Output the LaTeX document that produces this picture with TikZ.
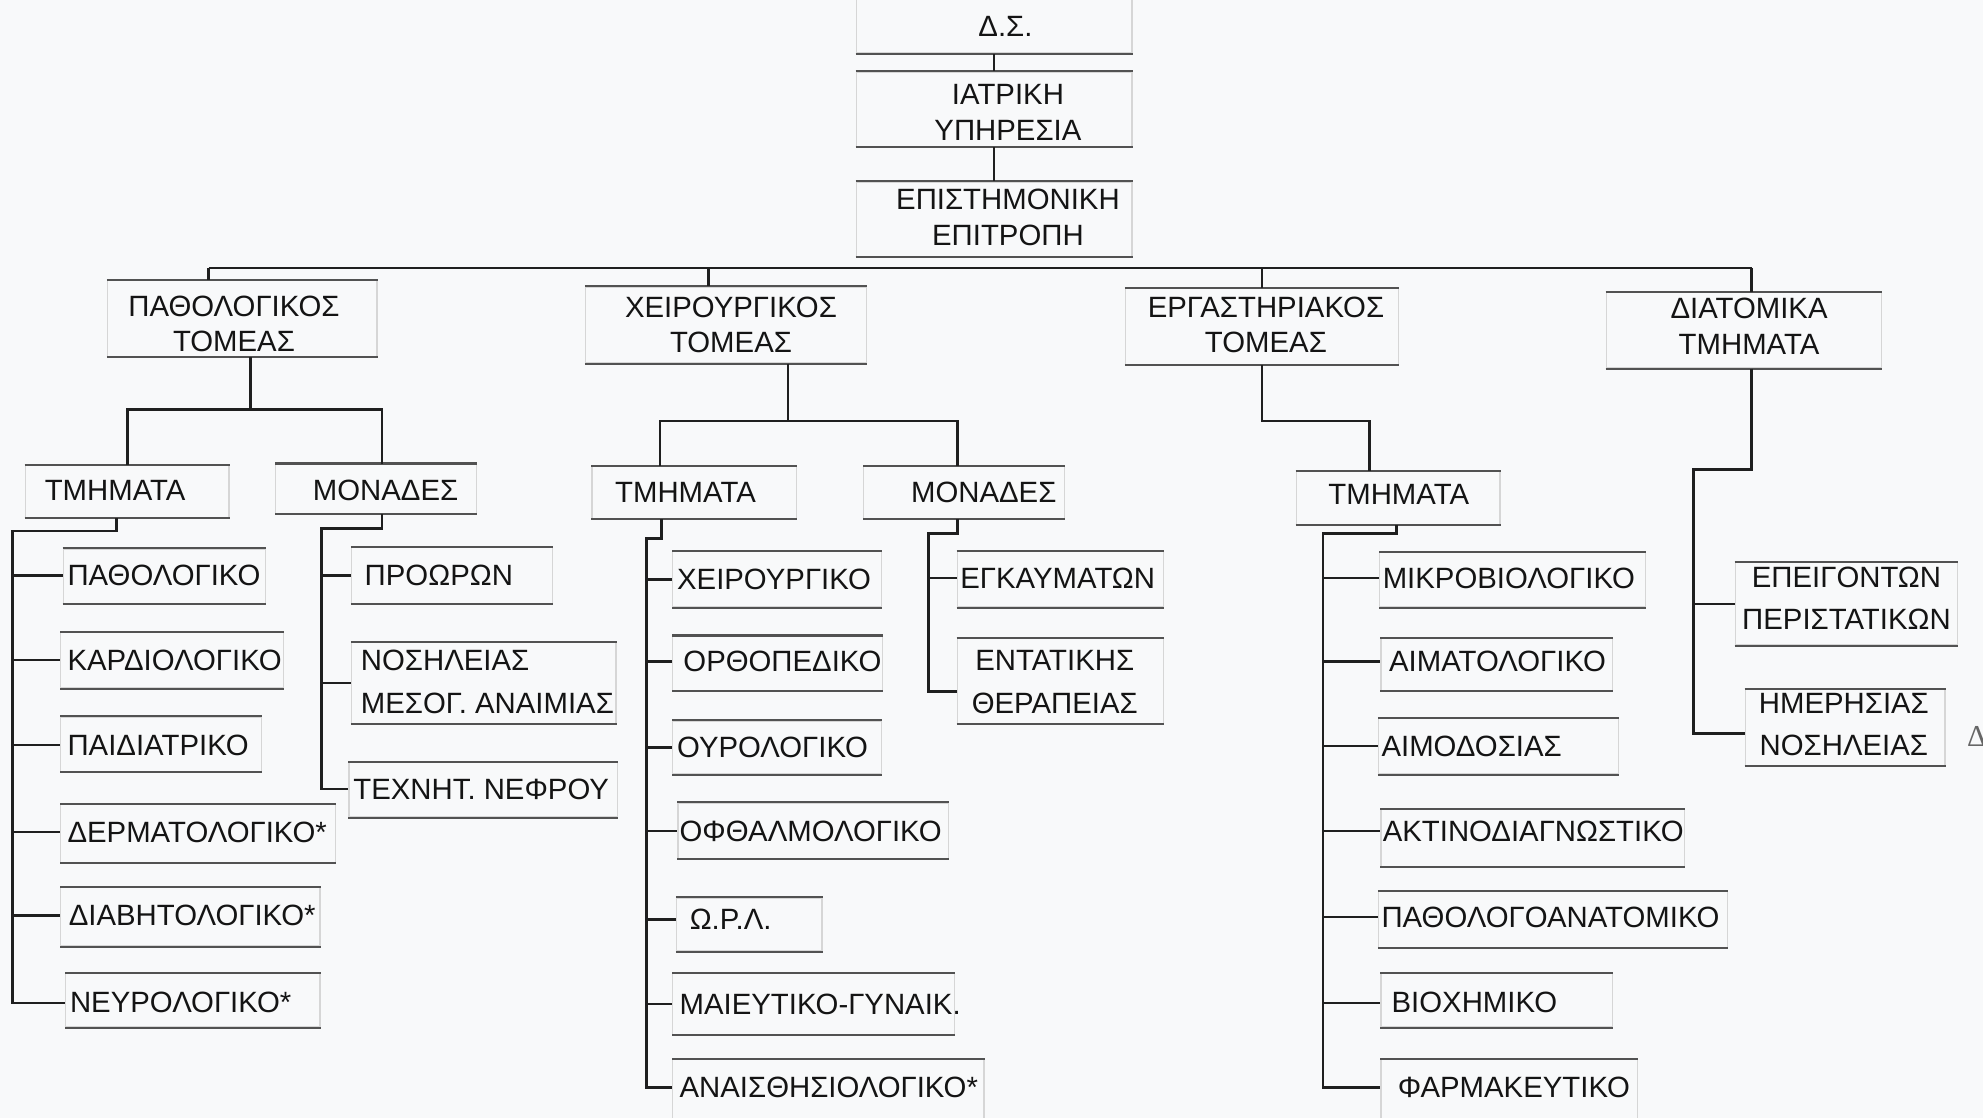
\documentclass[tikz,border=0pt]{standalone}
\usepackage{fontspec}
\setmainfont{Liberation Sans}
\newfontfamily\serifgr{Liberation Serif}
\definecolor{bgc}{RGB}{248,249,250}
\tikzset{
  boxst/.style={draw=black!16, line width=0.5pt, inner sep=0pt},
  edgeln/.style={draw=black!68, line width=0.8pt},
  conn/.style={draw=black!88, line width=1.05pt},
  txt/.style={font=\fontsize{11.6}{14}\selectfont, text=black!92, inner sep=0pt},
}
% left-aligned box: name, x1, y1, x2, y2, text x, text y, text
\newcommand\obox[8]{%
  \node[boxst, minimum width={(#4-#2)*0.5pt}, minimum height={(#5-#3)*0.5pt}] (#1) at ({(#2+#4)/2},{(#3+#5)/2}) {};
  \draw[edgeln] (#1.north west) -- (#1.north east) (#1.south west) -- (#1.south east);
  \node[txt, anchor=west, align=left] (#1-t) at (#6,#7) {#8};
}
% centred box: name, x1, y1, x2, y2, text centre x, text centre y, text
\newcommand\cbox[8]{%
  \node[boxst, minimum width={(#4-#2)*0.5pt}, minimum height={(#5-#3)*0.5pt}] (#1) at ({(#2+#4)/2},{(#3+#5)/2}) {};
  \draw[edgeln] (#1.north west) -- (#1.north east) (#1.south west) -- (#1.south east);
  \node[txt, align=center] (#1-t) at (#6,#7) {#8};
}
\newcommand\brn[2]{\draw[conn] (#1 |- #2-t.west) -- (#2.west |- #2-t.west);}
\begin{document}
\begin{tikzpicture}[x=0.5pt, y=-0.5pt]
\fill[bgc] (0,0) rectangle (1568,884);
\useasboundingbox (0,0) rectangle (1568,884);

% top
\cbox{DS}{677}{-4}{895}{42}{795}{21}{Δ.Σ.}
\cbox{IY}{677}{57}{895}{116}{797}{89}{ΙΑΤΡΙΚΗ\\ΥΠΗΡΕΣΙΑ}
\cbox{EE}{677}{144}{895}{203}{797}{172}{ΕΠΙΣΤΗΜΟΝΙΚΗ\\ΕΠΙΤΡΟΠΗ}

% sectors
\cbox{PT}{85}{222}{298}{282}{185}{256}{ΠΑΘΟΛΟΓΙΚΟΣ\\ΤΟΜΕΑΣ}
\cbox{XT}{463}{227}{685}{287}{578}{257}{ΧΕΙΡΟΥΡΓΙΚΟΣ\\ΤΟΜΕΑΣ}
\cbox{ET}{890}{228}{1106}{288}{1001}{257}{ΕΡΓΑΣΤΗΡΙΑΚΟΣ\\ΤΟΜΕΑΣ}
\cbox{DT}{1270}{231}{1488}{291}{1383}{258}{ΔΙΑΤΟΜΙΚΑ\\ΤΜΗΜΑΤΑ}

% second level
\obox{PTm}{20}{368}{181}{409}{35}{388}{ΤΜΗΜΑΤΑ}
\obox{PMo}{218}{367}{377}{406}{247}{388}{ΜΟΝΑΔΕΣ}
\obox{XTm}{468}{369}{630}{410}{486}{389}{ΤΜΗΜΑΤΑ}
\obox{XMo}{683}{369}{842}{410}{720}{389}{ΜΟΝΑΔΕΣ}
\obox{ETm}{1025}{373}{1186}{415}{1050}{391}{ΤΜΗΜΑΤΑ}

% leaves: pathology departments
\obox{P1}{50}{434}{210}{477}{53}{455}{ΠΑΘΟΛΟΓΙΚΟ}
\obox{P2}{48}{500}{224}{544}{53}{522}{ΚΑΡΔΙΟΛΟΓΙΚΟ}
\obox{P3}{48}{567}{207}{610}{53}{589}{ΠΑΙΔΙΑΤΡΙΚΟ}
\obox{P4}{48}{636}{265}{682}{53}{658}{ΔΕΡΜΑΤΟΛΟΓΙΚΟ*}
\obox{P5}{48}{702}{253}{748}{54}{724}{ΔΙΑΒΗΤΟΛΟΓΙΚΟ*}
\obox{P6}{52}{770}{253}{812}{55}{793}{ΝΕΥΡΟΛΟΓΙΚΟ*}
% pathology units
\obox{M1}{278}{433}{437}{477}{288}{455}{ΠΡΟΩΡΩΝ}
\obox{M2}{278}{508}{487}{572}{285}{539}{ΝΟΣΗΛΕΙΑΣ\\[3pt]ΜΕΣΟΓ. ΑΝΑΙΜΙΑΣ}
\obox{M3}{276}{603}{488}{646}{279}{624}{ΤΕΧΝΗΤ. ΝΕΦΡΟΥ}
% surgery departments
\obox{X1}{532}{436}{697}{480}{535}{458}{ΧΕΙΡΟΥΡΓΙΚΟ}
\obox{X2}{532}{503}{698}{546}{540}{523}{ΟΡΘΟΠΕΔΙΚΟ}
\obox{X3}{532}{570}{697}{612}{535}{591}{ΟΥΡΟΛΟΓΙΚΟ}
\obox{X4}{536}{635}{750}{679}{537}{657}{ΟΦΘΑΛΜΟΛΟΓΙΚΟ}
\obox{X5}{535}{710}{650}{752}{545}{727}{Ω.Ρ.Λ.}
\obox{X6}{532}{770}{755}{818}{537}{794}{ΜΑΙΕΥΤΙΚΟ-ΓΥΝΑΙΚ.}
\obox{X7}{532}{838}{778}{892}{537}{860}{ΑΝΑΙΣΘΗΣΙΟΛΟΓΙΚΟ*}
% surgery units
\obox{Y1}{757}{436}{920}{480}{759}{457}{ΕΓΚΑΥΜΑΤΩΝ}
\cbox{Y2}{757}{505}{920}{572}{834}{539}{ΕΝΤΑΤΙΚΗΣ\\[3pt]ΘΕΡΑΠΕΙΑΣ}
% laboratory departments
\obox{E1}{1091}{437}{1301}{480}{1093}{457}{ΜΙΚΡΟΒΙΟΛΟΓΙΚΟ}
\obox{E2}{1092}{505}{1275}{546}{1098}{523}{ΑΙΜΑΤΟΛΟΓΙΚΟ}
\obox{E3}{1090}{568}{1280}{612}{1092}{590}{ΑΙΜΟΔΟΣΙΑΣ}
\obox{E4}{1092}{640}{1332}{685}{1093}{657}{ΑΚΤΙΝΟΔΙΑΓΝΩΣΤΙΚΟ}
\obox{E5}{1090}{705}{1366}{749}{1092}{725}{ΠΑΘΟΛΟΓΟΑΝΑΤΟΜΙΚΟ}
\obox{E6}{1092}{770}{1275}{812}{1100}{793}{ΒΙΟΧΗΜΙΚΟ}
\obox{E7}{1092}{838}{1295}{892}{1105}{860}{ΦΑΡΜΑΚΕΥΤΙΚΟ}
% interdepartmental
\cbox{D1}{1372}{445}{1548}{510}{1460}{473}{ΕΠΕΙΓΟΝΤΩΝ\\[2.5pt]ΠΕΡΙΣΤΑΤΙΚΩΝ}
\cbox{D2}{1380}{545}{1538}{605}{1458}{573}{ΗΜΕΡΗΣΙΑΣ\\[2.5pt]ΝΟΣΗΛΕΙΑΣ}

% stray fragment at the right edge
\node[font=\serifgr\fontsize{12}{12}\selectfont, text=black!60, anchor=west, inner sep=0pt] (stray) at (1555,582) {Δ};

% ---- connectors ----
\draw[conn] (DS.south) -- (IY.north);
\draw[conn] (IY.south) -- (EE.north);
\coordinate (busL) at (165,212);
\coordinate (busR) at (1385,212);
\coordinate (bX) at (560,212);
\draw[conn] (busL) -- (busR);
\draw[conn] (busL) -- (busL |- PT.north);
\draw[conn] (bX) -- (bX |- XT.north);
\draw[conn] (ET.north |- busL) -- (ET.north);
\draw[conn] (busR) -- (busR |- DT.north);

% pathology sector split
\coordinate (pV) at (198,324);
\coordinate (pA) at (101,324);
\coordinate (pB) at (302,324);
\draw[conn] (pV |- PT.south) -- (pV);
\draw[conn] (pA |- PTm.north) -- (pA) -- (pB) -- (pB |- PMo.north);
% surgery sector split
\coordinate (xV) at (623,333);
\coordinate (xA) at (522,333);
\coordinate (xB) at (757,333);
\draw[conn] (xV |- XT.south) -- (xV);
\draw[conn] (xA |- XTm.north) -- (xA) -- (xB) -- (xB |- XMo.north);
% laboratory sector
\coordinate (eB) at (1083,333);
\draw[conn] (ET.south) -- (ET.south |- eB) -- (eB) -- (eB |- ETm.north);
% interdepartmental
\coordinate (dA) at (1339,371);
\coordinate (dB) at (1339,580);
\draw[conn] (busR |- DT.south) -- (busR |- dA) -- (dA) -- (dB) -- (dB -| D2.west);
\draw[conn] (dA |- D1.west) -- (D1.west);

% pathology departments spine
\coordinate (pT) at (92,420);
\coordinate (pS) at (10,420);
\draw[conn] (pT |- PTm.south) -- (pT) -- (pS) -- (pS |- P6-t.west) -- (P6.west |- P6-t.west);
\foreach \n in {P1,P2,P3,P4,P5} {\brn{pS}{\n}}
% pathology units spine
\coordinate (mT) at (302,418);
\coordinate (mS) at (254,418);
\draw[conn] (mT |- PMo.south) -- (mT) -- (mS) -- (mS |- M3-t.west) -- (M3.west |- M3-t.west);
\brn{mS}{M1}
\draw[conn] (mS |- M2.west) -- (M2.west);
% surgery departments spine
\coordinate (xT) at (523,426);
\coordinate (xS) at (511,426);
\draw[conn] (xT |- XTm.south) -- (xT) -- (xS) -- (xS |- X7-t.west) -- (X7.west |- X7-t.west);
\foreach \n in {X1,X2,X3,X4,X5,X6} {\brn{xS}{\n}}
% surgery units spine
\coordinate (yT) at (757,422);
\coordinate (yS) at (734,422);
\coordinate (yE) at (734,547);
\draw[conn] (yT |- XMo.south) -- (yT) -- (yS) -- (yE) -- (yE -| Y2.west);
\brn{yS}{Y1}
% laboratory departments spine
\coordinate (eT) at (1104,422);
\coordinate (eS) at (1046,422);
\draw[conn] (eT |- ETm.south) -- (eT) -- (eS) -- (eS |- E7-t.west) -- (E7.west |- E7-t.west);
\foreach \n in {E1,E2,E3,E4,E5,E6} {\brn{eS}{\n}}
\end{tikzpicture}
\end{document}
